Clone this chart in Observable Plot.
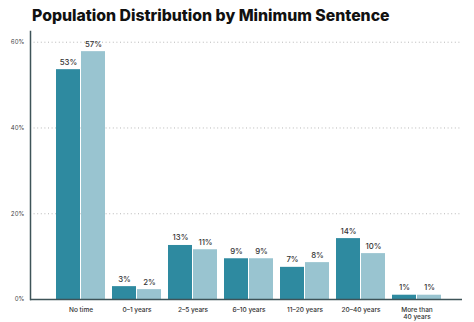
<!DOCTYPE html>
<html>
<head>
<meta charset="utf-8">
<script src="https://cdn.jsdelivr.net/npm/d3@7"></script>
<script src="https://cdn.jsdelivr.net/npm/@observablehq/plot@0.6"></script>
<style>
  html, body { margin: 0; padding: 0; background: #fff; }
  #title { height: 30px; box-sizing: border-box; padding: 6px 0 0 32px; font-family: Inter, sans-serif; font-weight: 800; font-size: 15.8px; line-height: 19px; color: #111; white-space: nowrap; }
  svg { display: block; }
</style>
</head>
<body>
<div id="title">Population Distribution by Minimum Sentence</div>
<div id="chart"></div>
<script>
const categories = ["No time", "0–1 years", "2–5 years", "6–10 years", "11–20 years", "20–40 years", "More than\n40 years"];
const seriesA = [53.6, 3.0, 12.6, 9.5, 7.5, 14.2, 1.0];
const seriesB = [57.8, 2.3, 11.6, 9.5, 8.6, 10.7, 1.0];
const labelsA = ["53%", "3%", "13%", "9%", "7%", "14%", "1%"];
const labelsB = ["57%", "2%", "11%", "9%", "8%", "10%", "1%"];
const yTicks = [0, 20, 40, 60];

const dataA = categories.map((c, i) => ({cat: c, v: seriesA[i], label: labelsA[i]}));
const dataB = categories.map((c, i) => ({cat: c, v: seriesB[i], label: labelsB[i]}));

const dark = "#2e8aa0", light = "#99c4d0", axisColor = "#3e5358";

const chart = Plot.plot({
  width: 474,
  height: 292,
  marginLeft: 30,
  marginRight: 12,
  marginTop: 1,
  marginBottom: 23,
  style: {fontFamily: "Inter, sans-serif", background: "#fff"},
  x: {domain: categories, range: [33, 464], paddingInner: 0.123, paddingOuter: 0.35, label: null},
  y: {domain: [0, 62.5], label: null},
  marks: [
    Plot.ruleY(yTicks.filter(d => d > 0), {stroke: "#b8b8b8", strokeDasharray: "1,2.6", strokeWidth: 1}),
    Plot.barY(dataA, {x: "cat", y: "v", fill: dark, insetRight: 25}),
    Plot.barY(dataB, {x: "cat", y: "v", fill: light, insetLeft: 25}),
    Plot.text(dataA, {x: "cat", y: "v", text: "label", dx: -12.5, dy: -5, fontSize: 7.8, fontWeight: 500, fill: "#333", lineAnchor: "bottom"}),
    Plot.text(dataB, {x: "cat", y: "v", text: "label", dx: 12.5, dy: -5, fontSize: 7.8, fontWeight: 500, fill: "#333", lineAnchor: "bottom"}),
    Plot.ruleY([0], {stroke: axisColor, strokeWidth: 1.5}),
    Plot.frame({anchor: "left", stroke: axisColor, strokeWidth: 1.5}),
    Plot.axisY({ticks: yTicks, tickFormat: d => d + "%", tickSize: 0, tickPadding: 6, fontSize: 6, fill: "#444", label: null}),
    Plot.axisX({tickSize: 0, tickPadding: 7, fontSize: 6.5, fontWeight: 500, fill: "#333", label: null, lineHeight: 1.1})
  ]
});
document.getElementById("chart").appendChild(chart);
</script>
</body>
</html>
